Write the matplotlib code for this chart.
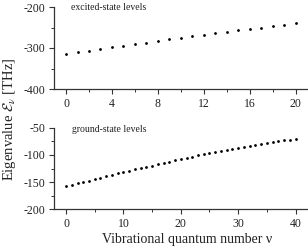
import matplotlib
matplotlib.use("Agg")
import matplotlib.pyplot as plt
from matplotlib.ticker import MultipleLocator

plt.rcParams['font.family'] = ['Liberation Serif', 'DejaVu Serif']
plt.rcParams['mathtext.fontset'] = 'stix'
plt.rcParams['axes.unicode_minus'] = False

# excited-state levels
v_exc = list(range(0, 21))
e_exc = [-314, -310, -306.5, -302.5, -298.5, -294.5, -290.5, -287, -282.5, -279,
         -275, -271, -267.5, -264.5, -260.5, -257, -254, -250, -246, -243, -240]

# ground-state levels
v_gnd = list(range(0, 41))
e_gnd = [-158.0, -155.6, -152.5, -149.6, -147.0, -144.1, -141.5, -139.0, -136.6, -134.1,
         -131.4, -128.8, -126.3, -124.1, -121.8, -119.4, -117.1, -114.9, -112.6, -110.0,
         -107.4, -105.0, -102.9, -100.6, -98.6, -96.6, -94.5, -92.5, -90.6, -88.7,
         -86.9, -85.1, -83.3, -81.4, -79.6, -77.8, -76.0, -74.6, -72.9, -71.6, -70.4]

exc_yticks = [-400, -300, -200]
exc_xticks = [0, 4, 8, 12, 16, 20]
gnd_yticks = [-200, -150, -100, -50]
gnd_xticks = [0, 10, 20, 30, 40]

fig = plt.figure(figsize=(3.08, 2.46), dpi=100)
ax1 = fig.add_axes([54/308, 1-89/246, 253/308, 82/246])
ax2 = fig.add_axes([54/308, 1-209.3/246, 253/308, 81.5/246])

spine_col = '#333333'
text_col = '#222222'
for ax in (ax1, ax2):
    for s in ('top', 'right'):
        ax.spines[s].set_visible(False)
    for s in ('left', 'bottom'):
        ax.spines[s].set_color(spine_col)
        ax.spines[s].set_linewidth(0.9)
    ax.tick_params(which='major', direction='out', length=3.5, width=0.8,
                   color=spine_col, labelsize=8.5, pad=3, labelcolor=text_col)
    ax.tick_params(which='minor', direction='out', length=2, width=0.7, color=spine_col)

ax1.plot(v_exc, e_exc, 'o', color='black', ms=2.0, mec='none')
ax1.set_xlim(-1.05, 21)
ax1.set_ylim(-400, -200)
ax1.set_xticks(exc_xticks)
ax1.set_yticks(exc_yticks)
ax1.xaxis.set_minor_locator(MultipleLocator(2))
ax1.yaxis.set_minor_locator(MultipleLocator(50))
ax1.text(0.45, -201.5, 'excited-state levels', fontsize=7, ha='left', va='center',
         color=text_col)

ax2.plot(v_gnd, e_gnd, 'o', color='black', ms=2.0, mec='none')
ax2.set_xlim(-2.1, 42)
ax2.set_ylim(-200, -50)
ax2.set_xticks(gnd_xticks)
ax2.set_yticks(gnd_yticks)
ax2.xaxis.set_minor_locator(MultipleLocator(5))
ax2.yaxis.set_minor_locator(MultipleLocator(25))
ax2.text(1.0, -54, 'ground-state levels', fontsize=7, ha='left', va='center',
         color=text_col)

fig.text(10/308, 1-119.5/246, r'Eigenvalue $\mathcal{E}_\nu$ [THz]', rotation=90,
         ha='center', va='center', fontsize=10.5, color=text_col)
fig.text(187/308, 1-240/246, 'Vibrational quantum number ν', ha='center', va='center',
         fontsize=10, color=text_col)

fig.savefig('out.png', dpi=100)
